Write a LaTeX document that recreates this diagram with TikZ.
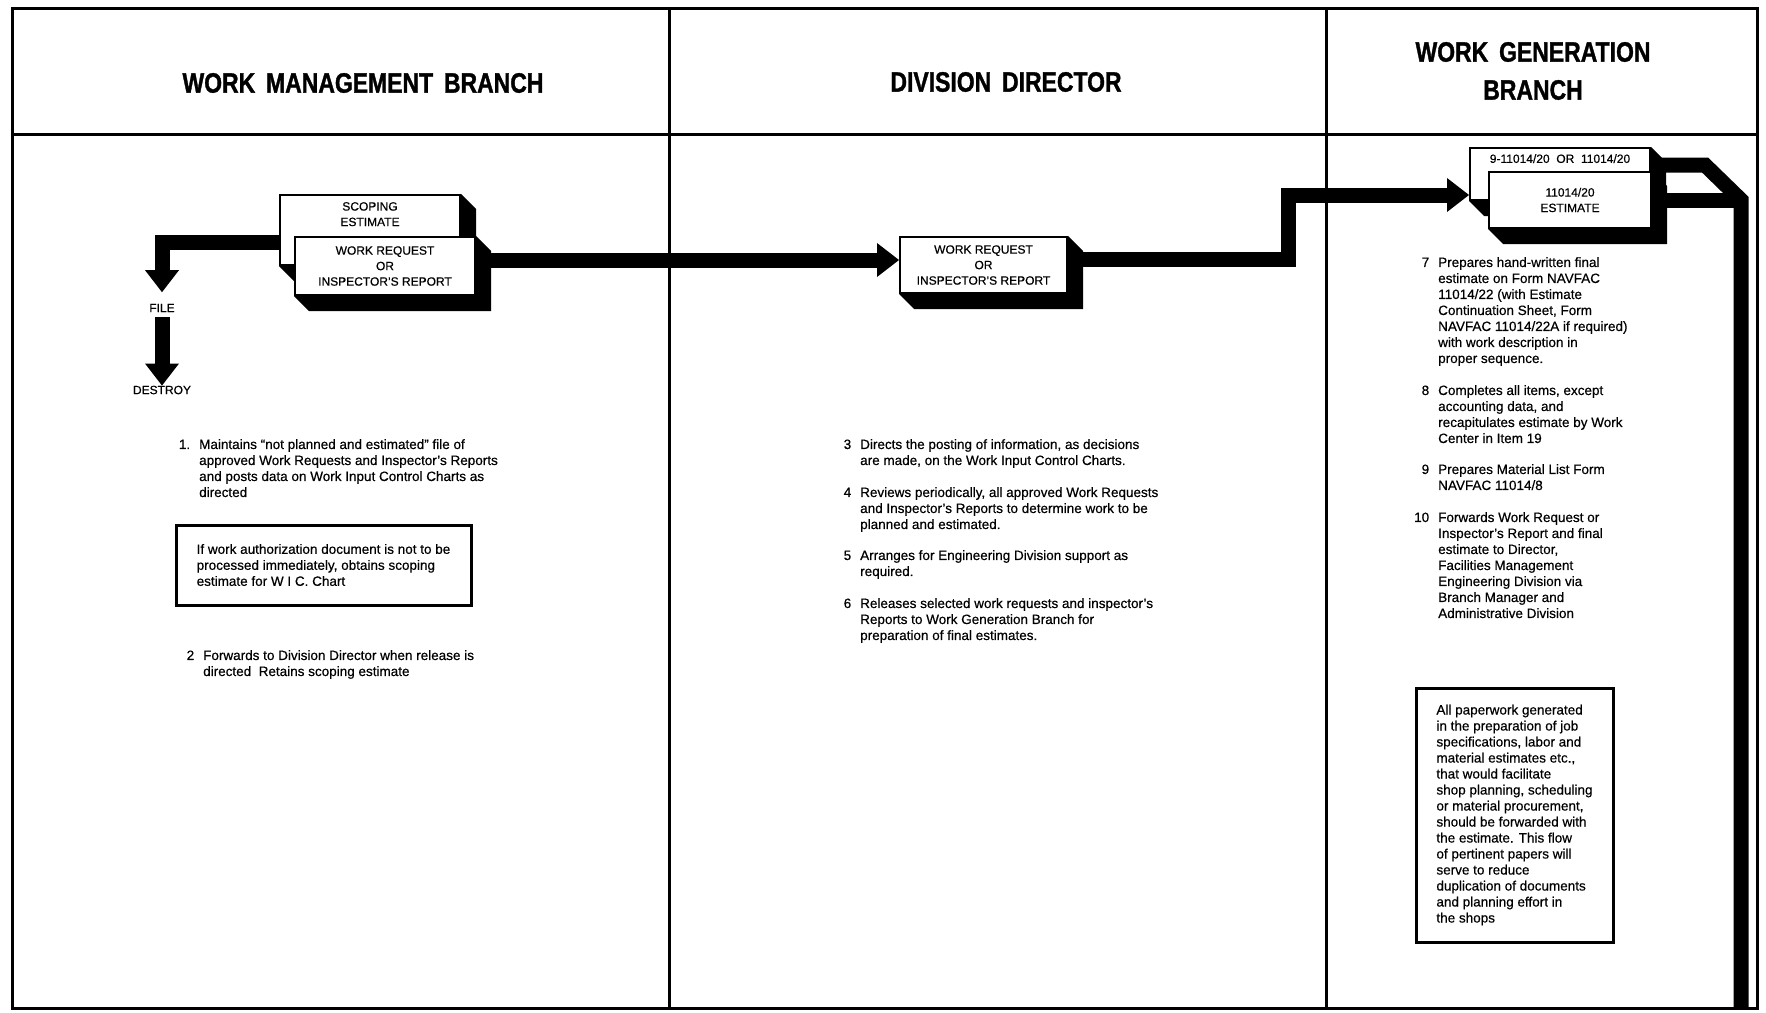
\documentclass[tikz,border=0pt]{standalone}
\usepackage{fontspec}
\setmainfont{Liberation Sans}[FakeBold=0.5]
\newfontfamily\titlefont{Liberation Sans}[FakeStretch=0.82, WordSpace=1.7, BoldFeatures={FakeBold=1.2}]
\usetikzlibrary{arrows.meta, positioning}
\pgfdeclarelayer{background}
\pgfsetlayers{background,main}
\newcommand{\itemno}[1]{\llap{#1\hspace{9pt}}}

\begin{document}
\begin{tikzpicture}[
    x=1pt, y=-1pt,
    every node/.style={inner sep=0pt},
    frame/.style={line width=3pt},
    title/.style={font=\titlefont\bfseries\fontsize{28}{38}\selectfont, align=center},
    docbox/.style={draw, line width=2pt, fill=white, align=center, font=\fontsize{12}{15.5}\selectfont},
    boxtext/.style={align=center, font=\fontsize{12}{15.5}\selectfont},
    lbl/.style={font=\fontsize{12}{14}\selectfont},
    itemtext/.style={anchor=north west, align=left, font=\fontsize{13.5}{16}\selectfont},
    note/.style={draw, line width=3pt, align=left, font=\fontsize{13.5}{16}\selectfont},
    flow/.style={line width=15pt, -{Triangle[length=22pt, width=34pt, line width=0pt]}},
    trunk/.style={line width=15pt}
]

\useasboundingbox (0,0) rectangle (1766,1012);

% Frame and columns
\draw[frame] (12,8) rectangle (1757,1008);
\draw[frame] (12,134) -- (1757,134);
\draw[frame] (669,8) -- (669,1008);
\draw[frame] (1326,8) -- (1326,1008);

% Titles
\node[title] (wmb) at (363,83) {WORK MANAGEMENT BRANCH};
\node[title] (dir) at (1006,82) {DIVISION DIRECTOR};
\node[title] (wgb) at (1533,71) {WORK GENERATION\\BRANCH};

% Documents
\node[docbox, minimum width=180pt, minimum height=70pt] (scope) at (370,230) {};
\node[boxtext, below=8pt of scope.north] (scopetxt) {SCOPING\\ESTIMATE};
\node[docbox, minimum width=180pt, minimum height=58pt] (wr1) at (385,266) {WORK REQUEST\\OR\\INSPECTOR'S REPORT};
\node[docbox, minimum width=167pt, minimum height=56pt] (wr2) at (983.5,265) {WORK REQUEST\\OR\\INSPECTOR'S REPORT};
\node[docbox, minimum width=180pt, minimum height=52pt] (form) at (1560,174) {};
\node[boxtext, below=7pt of form.north] (formtxt) {9-11014/20\ \ OR\ \ 11014/20};
\node[docbox, minimum width=162pt, minimum height=56pt] (est) at (1570,200) {11014/20\\ESTIMATE};

\node[lbl] (file) at (162,308) {FILE};
\node[lbl] (destroy) at (162,390) {DESTROY};

% Shadows
\begin{pgfonlayer}{background}
\fill[white] (0,0) rectangle (1766,1012);
\foreach \n in {scope, wr1, wr2, form, est}
  \fill (\n.north west) -- (\n.north east) -- ([shift={(15,15)}]\n.north east)
    -- ([shift={(15,15)}]\n.south east) -- ([shift={(15,15)}]\n.south west)
    -- (\n.south west) -- cycle;
\end{pgfonlayer}

% Flow
\coordinate (bend) at (1288,195);
\coordinate (kink) at (1705,165);
\coordinate (drop) at (1741,200);
\coordinate (foot) at (1741,1007);

\draw[flow, shorten >=11.5pt] ([yshift=-12pt]scope.west) -| (file.north);
\draw[flow, shorten <=5pt] (file.south) -- (destroy.north);
\draw[flow] ([yshift=6pt]wr1.east) -- ([yshift=6pt]wr1.east -| wr2.west);
\draw[flow] ([yshift=6pt]wr2.east) -| (bend) -- (bend -| form.west);
\draw[trunk] ([yshift=9pt]form.east) -- (kink) -- (drop) -- (foot);
\draw[trunk] (est.east) -- (est.east -| drop);

% Work Management Branch
\node[itemtext] (it1) at (199,439) {\itemno{1.}Maintains “not planned and estimated” file of\\approved Work Requests and Inspector's Reports\\and posts data on Work Input Control Charts as\\directed};
\node[note, minimum width=295pt, minimum height=80pt] (memo) at (323.5,565) {If work authorization document is not to be\\processed immediately, obtains scoping\\estimate for W I C. Chart};
\node[itemtext] (it2) at (203,650) {\itemno{2}Forwards to Division Director when release is\\directed\ \ Retains scoping estimate};

% Division Director
\node[itemtext] (it3) at (860,439) {\itemno{3}Directs the posting of information, as decisions\\are made, on the Work Input Control Charts.};
\node[itemtext] (it4) at (860,487) {\itemno{4}Reviews periodically, all approved Work Requests\\and Inspector's Reports to determine work to be\\planned and estimated.};
\node[itemtext] (it5) at (860,550) {\itemno{5}Arranges for Engineering Division support as\\required.};
\node[itemtext] (it6) at (860,598) {\itemno{6}Releases selected work requests and inspector's\\Reports to Work Generation Branch for\\preparation of final estimates.};

% Work Generation Branch
\node[itemtext] (it7) at (1438,257) {\itemno{7}Prepares hand-written final\\estimate on Form NAVFAC\\11014/22 (with Estimate\\Continuation Sheet, Form\\NAVFAC 11014/22A if required)\\with work description in\\proper sequence.};
\node[itemtext] (it8) at (1438,385) {\itemno{8}Completes all items, except\\accounting data, and\\recapitulates estimate by Work\\Center in Item 19};
\node[itemtext] (it9) at (1438,464) {\itemno{9}Prepares Material List Form\\NAVFAC 11014/8};
\node[itemtext] (it10) at (1438,512) {\itemno{10}Forwards Work Request or\\Inspector's Report and final\\estimate to Director,\\Facilities Management\\Engineering Division via\\Branch Manager and\\Administrative Division};
\node[note, minimum width=197pt, minimum height=254pt] (paper) at (1514.5,815) {All paperwork generated\\in the preparation of job\\specifications, labor and\\material estimates etc.,\\that would facilitate\\shop planning, scheduling\\or material procurement,\\should be forwarded with\\the estimate. This flow\\of pertinent papers will\\serve to reduce\\duplication of documents\\and planning effort in\\the shops};

\end{tikzpicture}
\end{document}
